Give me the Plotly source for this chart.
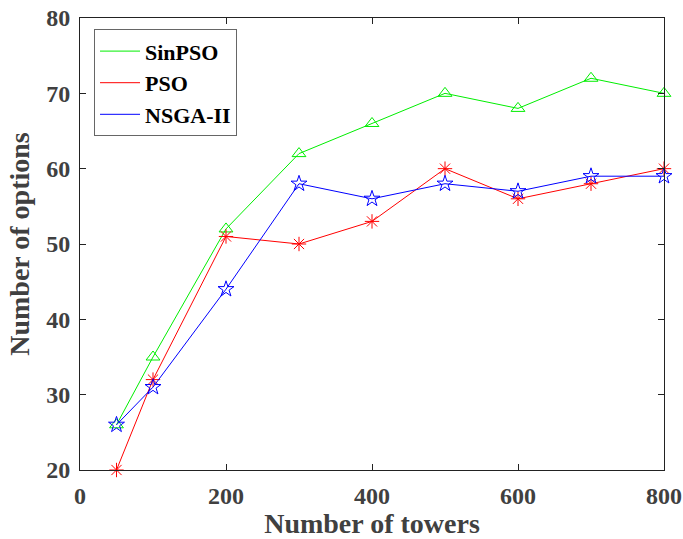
import plotly.graph_objects as go

towers = [50, 100, 200, 300, 400, 500, 600, 700, 800]
sinpso = [26, 35, 52, 62, 66, 70, 68, 72, 70]
pso = [20, 32, 51, 50, 53, 60, 56, 58, 60]
nsga = [26, 31, 44, 58, 56, 58, 57, 59, 59]

series = [
    ("SinPSO", sinpso, "#00ee00", "triangle-up-open"),
    ("PSO", pso, "#ff0000", "asterisk-open"),
    ("NSGA-II", nsga, "#0000ff", "star-open"),
]

fig = go.Figure()
for name, vals, col, sym in series:
    fig.add_trace(go.Scatter(x=towers, y=vals, mode="lines+markers", name=name,
                             line=dict(color=col, width=1),
                             marker=dict(symbol=sym, size=12, color=col, line=dict(color=col, width=1)),
                             showlegend=False, cliponaxis=False))
for name, vals, col, sym in series:
    fig.add_trace(go.Scatter(x=[None], y=[None], mode="lines", name=name,
                             line=dict(color=col, width=1)))

font = "Liberation Serif, Times New Roman, serif"
fig.update_layout(
    width=683, height=539,
    margin=dict(l=80, r=19, t=18, b=69),
    plot_bgcolor="white", paper_bgcolor="white",
    font=dict(family=font, size=20, color="#404040"),
    showlegend=True,
    legend=dict(x=0.024, y=0.975, xanchor="left", yanchor="top",
                bordercolor="#666666", borderwidth=1, bgcolor="white",
                font=dict(family=font, size=22, color="black", weight="bold"),
                itemwidth=40, tracegroupgap=0),
    xaxis=dict(range=[0, 800], tickvals=[0, 200, 400, 600, 800], automargin=False,
               ticks="inside", ticklen=6, tickcolor="#222", showgrid=False, zeroline=False,
               showline=True, linecolor="#222", linewidth=1, mirror="ticks",
               ticklabelstandoff=4, ticklabeloverflow="allow",
               tickfont=dict(family=font, size=24, weight="bold", color="#404040"),
               title=dict(text="Number of towers", standoff=6,
                          font=dict(family=font, size=28, weight="bold", color="#404040"))),
    yaxis=dict(range=[20, 80], tickvals=[20, 30, 40, 50, 60, 70, 80], automargin=False,
               ticks="inside", ticklen=6, tickcolor="#222", showgrid=False, zeroline=False,
               showline=True, linecolor="#222", linewidth=1, mirror="ticks",
               ticklabelstandoff=4, ticklabeloverflow="allow",
               tickfont=dict(family=font, size=24, weight="bold", color="#404040"),
               title=dict(text="Number of options", standoff=8,
                          font=dict(family=font, size=28, weight="bold", color="#404040"))),
)
fig.write_html("out.html")
